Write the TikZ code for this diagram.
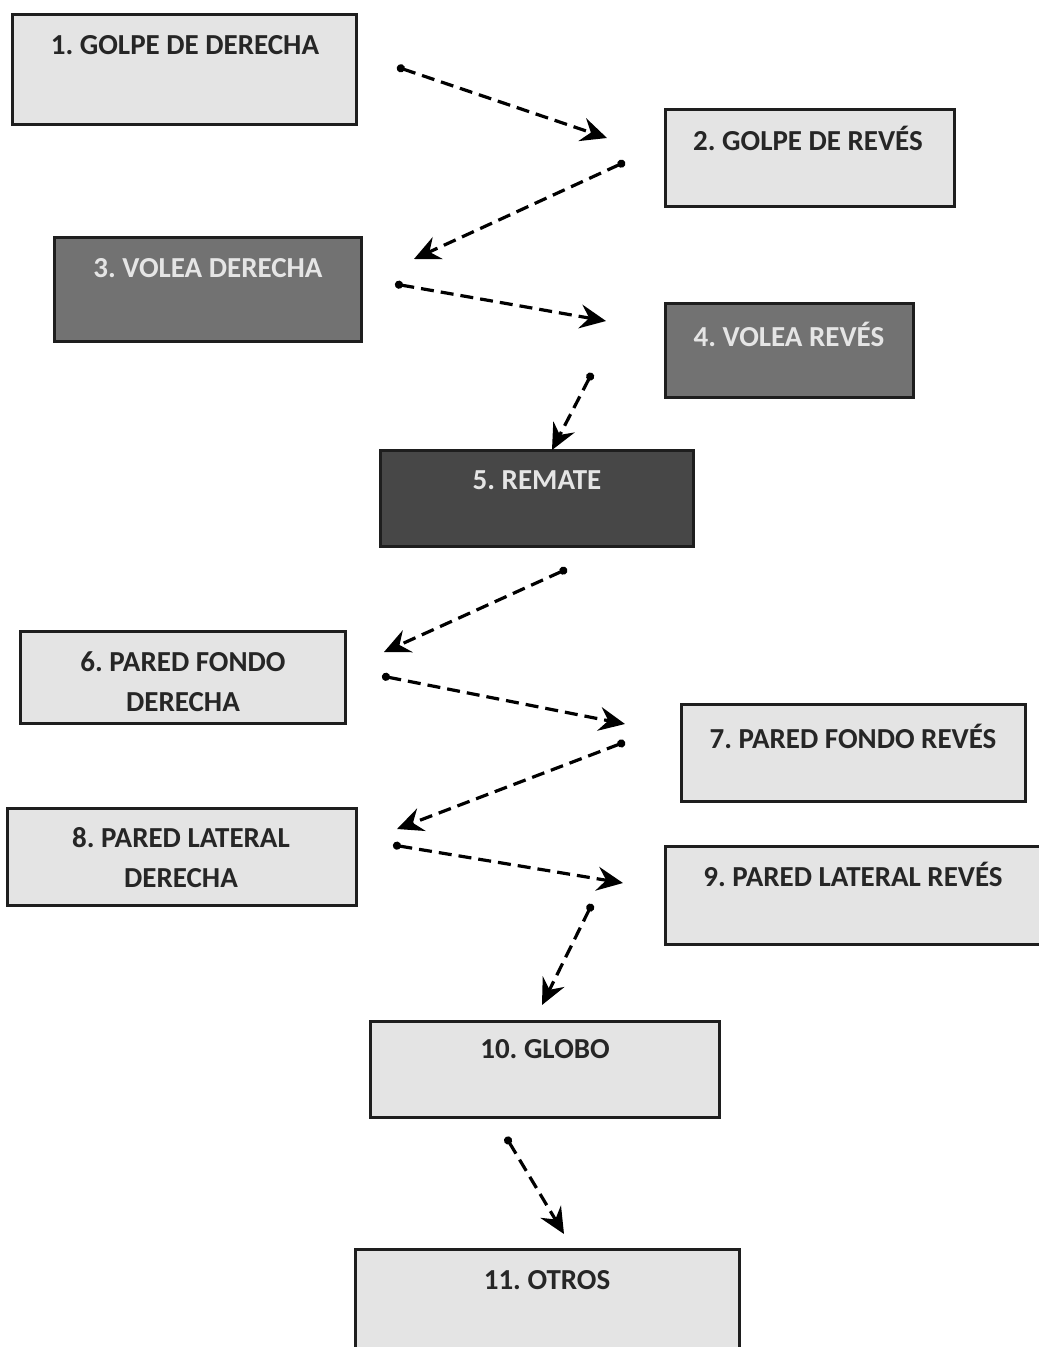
\documentclass[tikz,border=0pt]{standalone}
\usepackage{fontspec}
\setmainfont{Carlito}
\usetikzlibrary{arrows.meta,calc}
\definecolor{lightbox}{HTML}{E4E4E4}
\definecolor{midbox}{HTML}{727272}
\definecolor{darkbox}{HTML}{474747}
\definecolor{edge}{HTML}{1E1E1E}
\frenchspacing
\begin{document}
\begin{tikzpicture}[x=1pt,y=-1pt,
  box/.style={draw=edge,line width=3pt,rectangle,inner sep=0pt},
  lbox/.style={box,fill=lightbox},
  mbox/.style={box,fill=midbox},
  dbox/.style={box,fill=darkbox},
  lbl/.style={font=\bfseries\fontsize{29}{40}\selectfont,text=black!85,align=center,inner sep=0pt},
  wlbl/.style={lbl,text=white!90!black},
  flow/.style={draw=black,line width=3.2pt,dash pattern=on 13pt off 7pt,
    {Circle[length=8pt,width=8pt]}-{Stealth[length=26pt,width=24pt,inset=9pt]}}]
\useasboundingbox (0,0) rectangle (1039,1347);
\clip (0,0) rectangle (1039,1347);
% boxes
\node[lbox,minimum width=344pt,minimum height=110pt] (b1) at (184,69) {};
\node[lbox,minimum width=289pt,minimum height=97pt] (b2) at (809.5,157.5) {};
\node[mbox,minimum width=307pt,minimum height=104pt] (b3) at (207.5,289) {};
\node[mbox,minimum width=248pt,minimum height=94pt] (b4) at (789,350) {};
\node[dbox,minimum width=313pt,minimum height=96pt] (b5) at (536.5,498) {};
\node[lbox,minimum width=325pt,minimum height=92pt] (b6) at (182.5,677) {};
\node[lbox,minimum width=344pt,minimum height=97pt] (b7) at (853,752.5) {};
\node[lbox,minimum width=349pt,minimum height=97pt] (b8) at (181.5,856.5) {};
\node[lbox,minimum width=380pt,minimum height=98pt] (b9) at (855,895) {};
\node[lbox,minimum width=349pt,minimum height=96pt] (b10) at (544.5,1069) {};
\node[lbox,minimum width=384pt,minimum height=140pt] (b11) at (547,1319) {};
% labels
\node[lbl] (t1) at (185,45) {1. GOLPE DE DERECHA};
\node[lbl] (t2) at (808,138) {2. GOLPE DE REVÉS};
\node[wlbl] (t3) at (208,268) {3. VOLEA DERECHA};
\node[wlbl] (t4) at (789,334) {4. VOLEA REVÉS};
\node[wlbl] (t5) at (537,480) {5. REMATE};
\node[lbl] (t6) at (183,682) {6. PARED FONDO\\DERECHA};
\node[lbl] (t7) at (853,736) {7. PARED FONDO REVÉS};
\node[lbl] (t8) at (181,858) {8. PARED LATERAL\\DERECHA};
\node[lbl] (t9) at (853,874) {9. PARED LATERAL REVÉS};
\node[lbl] (t10) at (545,1049) {10. GLOBO};
\node[lbl] (t11) at (547,1280) {11. OTROS};
% connector end points
\coordinate (s1) at (397,67);   \coordinate (e1) at (607,138);
\coordinate (s2) at (625,162);  \coordinate (e2) at (414,259);
\coordinate (s3) at (395,284);  \coordinate (e3) at (606,321);
\coordinate (s4) at (592,373);  \coordinate (e4) at (552,450);
\coordinate (s5) at (567,569);  \coordinate (e5) at (384,652);
\coordinate (s6) at (382,676);  \coordinate (e6) at (625,724);
\coordinate (s7) at (625,742);  \coordinate (e7) at (397,829);
\coordinate (s8) at (393,845);  \coordinate (e8) at (623,883);
\coordinate (s9) at (592,904);  \coordinate (e9) at (542,1005);
\coordinate (s10) at (506,1137); \coordinate (e10) at (564,1234);
\foreach \i in {1,...,10} \draw[flow] (s\i) -- (e\i);
\end{tikzpicture}
\end{document}
